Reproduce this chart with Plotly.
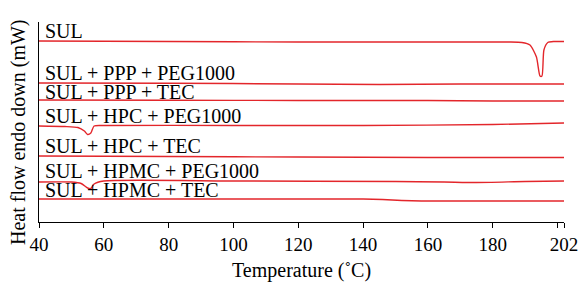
import plotly.graph_objects as go

# Temperatures (°C) and heat-flow (arbitrary mW units, offset per curve)
labels = ["SUL", "SUL + PPP + PEG1000", "SUL + PPP + TEC", "SUL + HPC + PEG1000",
          "SUL + HPC + TEC", "SUL + HPMC + PEG1000", "SUL + HPMC + TEC"]

t_sul = [40, 80, 120, 160, 185, 189, 191.5, 193.5, 194.6, 195.2, 195.8, 197, 199, 202]
h_sul = [181, 180.5, 180, 180, 180, 179.5, 177, 165, 146, 146, 172, 179.5, 180.5, 180.5]

t_ppp_peg = [40, 80, 120, 145, 170, 202]
h_ppp_peg = [139, 138.8, 138, 137.5, 138, 138]

t_ppp_tec = [40, 80, 120, 160, 180, 202]
h_ppp_tec = [122, 121.8, 121.5, 121.5, 121, 121]

t_hpc_peg = [40, 48, 52, 54, 55, 56, 57, 60, 100, 140, 180, 202]
h_hpc_peg = [96, 95.5, 94.5, 91, 87.5, 89, 96, 96.5, 96.5, 96.5, 97.5, 99]

t_hpc_tec = [40, 80, 120, 160, 202]
h_hpc_tec = [66, 65.5, 65, 64.5, 64.5]

t_hpmc_peg = [40, 50, 53, 55, 56, 57, 60, 100, 150, 165, 175, 190, 202]
h_hpmc_peg = [40, 40, 38.5, 34, 33.5, 38, 41, 41, 40.5, 40, 39.5, 40.5, 41]

t_hpmc_tec = [40, 100, 140, 146, 152, 158, 202]
h_hpmc_tec = [23, 23, 23, 22.5, 21.5, 21, 21]

label_offset = [10, 10, 8, 10, 10, 11, 9]

series = [(t_sul, h_sul), (t_ppp_peg, h_ppp_peg), (t_ppp_tec, h_ppp_tec),
          (t_hpc_peg, h_hpc_peg), (t_hpc_tec, h_hpc_tec),
          (t_hpmc_peg, h_hpmc_peg), (t_hpmc_tec, h_hpmc_tec)]

x_ticks = [40, 60, 80, 100, 120, 140, 160, 180, 200, 202]
x_ticklabels = ["40", "60", "80", "100", "120", "140", "160", "180", "", "202"]

RED = "#e3262b"
FONT = "Liberation Serif"

fig = go.Figure()
for name, (t, h) in zip(labels, series):
    fig.add_trace(go.Scatter(x=t, y=h, mode="lines", name=name,
                             line=dict(color=RED, width=1.4, shape="spline", smoothing=0.6),
                             showlegend=False, hoverinfo="skip", cliponaxis=False))

for name, (t, h), off in zip(labels, series, label_offset):
    fig.add_annotation(x=41.3, y=h[0] + off, text=name, showarrow=False,
                       xanchor="left", yanchor="middle",
                       font=dict(family=FONT, size=20, color="black"))

# axis titles
fig.add_annotation(xref="paper", yref="paper", x=0.5, y=0, yshift=-48,
                   text="Temperature (˚C)", showarrow=False,
                   xanchor="center", yanchor="middle",
                   font=dict(family=FONT, size=20, color="black"))
fig.add_annotation(xref="paper", yref="paper", x=0, y=0.5, xshift=-21, yshift=-10,
                   text="Heat flow endo down (mW)", showarrow=False, textangle=-90,
                   xanchor="center", yanchor="middle",
                   font=dict(family=FONT, size=20, color="black"))

fig.update_layout(
    width=583, height=285,
    margin=dict(l=39, r=19, t=22, b=63),
    paper_bgcolor="white", plot_bgcolor="white",
    font=dict(family=FONT, size=19, color="black"),
    xaxis=dict(range=[40, 202], tickvals=x_ticks, ticktext=x_ticklabels,
               ticks="outside", ticklen=5, tickwidth=1, tickcolor="black",
               tickfont=dict(family=FONT, size=19),
               showline=True, linecolor="black", linewidth=1.2,
               showgrid=False, zeroline=False, automargin=False),
    yaxis=dict(range=[0, 200], showticklabels=False, ticks="",
               showline=True, linecolor="black", linewidth=1.2,
               showgrid=False, zeroline=False, automargin=False),
)

fig.write_html("out.html", config={"displayModeBar": False},
               post_script="document.body.style.margin='0';")
